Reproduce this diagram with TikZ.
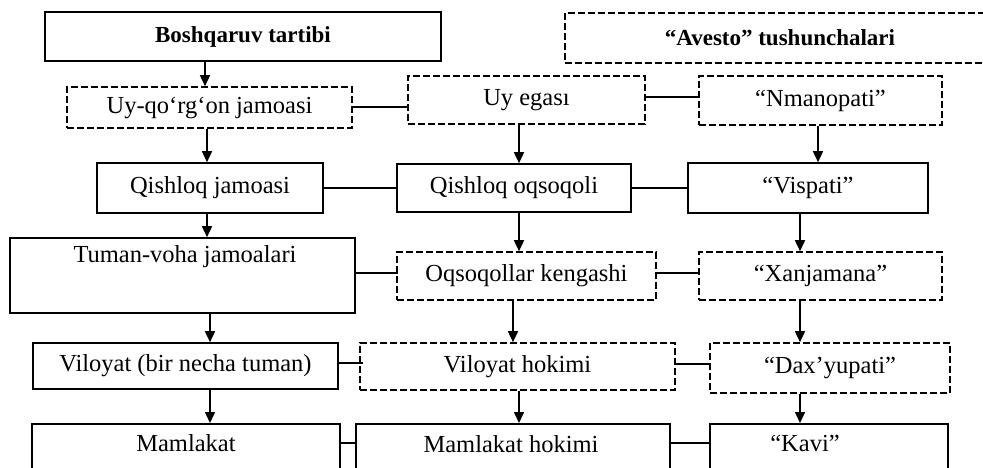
\documentclass[tikz,border=0pt]{standalone}
\usepackage{fontspec}
\setmainfont{Liberation Serif}
\usetikzlibrary{arrows.meta}
\tikzset{
  box/.style={draw, line width=1.6pt, inner sep=0pt, font=\fontsize{24.5}{27}\selectfont},
  dbox/.style={box, dash pattern=on 7pt off 3pt},
  txt/.style={inner sep=0pt, font=\fontsize{24.5}{27}\selectfont},
  arr/.style={line width=1.6pt, -{Triangle[length=11pt,width=10pt]}},
  link/.style={line width=2pt}
}
\begin{document}
\begin{tikzpicture}[x=1pt,y=-1pt]
\useasboundingbox (0,0) rectangle (983,468);
\clip (0,0) rectangle (983,468);
% top row
\node[box, line width=2pt, minimum width=396pt, minimum height=49pt, font=\bfseries\fontsize{23}{25}\selectfont] (bosh) at (243,36.5) {Boshqaruv tartibi};
\node[dbox, minimum width=430pt, minimum height=50pt, font=\bfseries\fontsize{23}{25}\selectfont] (avesto) at (780,38) {“Avesto” tushunchalari};
% row 2
\node[dbox, minimum width=285pt, minimum height=41pt] (uyq) at (209.5,107.5) {Uy-qo‘rg‘on jamoasi};
\node[dbox, minimum width=237pt, minimum height=48pt] (uye) at (526.5,100) {Uy egası};
\node[dbox, minimum width=243pt, minimum height=49pt] (nman) at (820.5,100.5) {“Nmanopati”};
% row 3
\node[box, minimum width=226pt, minimum height=50pt] (qj) at (210,188) {Qishloq jamoasi};
\node[box, minimum width=234pt, minimum height=48pt] (qo) at (514,188) {Qishloq oqsoqoli};
\node[box, minimum width=240pt, minimum height=50pt] (visp) at (808,188) {“Vispati”};
% row 4
\node[box, minimum width=345pt, minimum height=75pt] (tum) at (182.5,275.5) {};
\node[txt] (tumt) at (185,257) {Tuman-voha jamoalari};
\node[dbox, minimum width=259pt, minimum height=48pt] (oqk) at (526.5,276) {Oqsoqollar kengashi};
\node[dbox, minimum width=243pt, minimum height=48pt] (xan) at (820.5,276) {“Xanjamana”};
% row 5
\node[box, minimum width=305pt, minimum height=46pt] (vil) at (185.5,366) {Viloyat (bir necha tuman)};
\node[dbox, minimum width=315pt, minimum height=47pt] (vh) at (517.5,366.5) {Viloyat hokimi};
\node[dbox, minimum width=240pt, minimum height=50pt] (dax) at (830,368) {“Dax’yupati”};
% row 6 (cut off at the bottom)
\node[box, minimum width=308pt, minimum height=70pt, anchor=north] (mam) at (186,423) {};
\node[txt] (mamt) at (186,443) {Mamlakat};
\node[box, minimum width=314pt, minimum height=70pt, anchor=north] (mh) at (513,423) {};
\node[txt] (mht) at (511,444) {Mamlakat hokimi};
\node[box, minimum width=238pt, minimum height=70pt, anchor=north] (kavi) at (829,423) {};
\node[txt] (kavit) at (805,443) {“Kavi”};
% arrow columns
\coordinate (xa) at (205,0);
\coordinate (xb) at (207,0);
\coordinate (xc) at (210,0);
\coordinate (xd) at (519,0);
\coordinate (xe) at (513,0);
\coordinate (xf) at (818,0);
\coordinate (xg) at (800,0);
% vertical arrows
\draw[arr] (bosh.south -| xa) -- (uyq.north -| xa);
\draw[arr] (uyq.south -| xb) -- (qj.north -| xb);
\draw[arr] (qj.south -| xb) -- (tum.north -| xb);
\draw[arr] (tum.south -| xc) -- (vil.north -| xc);
\draw[arr] (vil.south -| xc) -- (mam.north -| xc);
\draw[arr] (uye.south -| xd) -- (qo.north -| xd);
\draw[arr] (qo.south -| xd) -- (oqk.north -| xd);
\draw[arr] (oqk.south -| xe) -- (vh.north -| xe);
\draw[arr] (vh.south -| xd) -- (mh.north -| xd);
\draw[arr] (nman.south -| xf) -- (visp.north -| xf);
\draw[arr] (visp.south -| xg) -- (xan.north -| xg);
\draw[arr] (xan.south -| xg) -- (dax.north -| xg);
\draw[arr] (dax.south -| xg) -- (kavi.north -| xg);
% horizontal links
\draw[link] (uyq.east) -- (uyq.east -| uye.west);
\draw[link] (uye.east) ++(0,-3) -- ++(54,0);
\draw[link] (qj.east) -- (qj.east -| qo.west);
\draw[link] (qo.east) -- (qo.east -| visp.west);
\draw[link] (oqk.west -| tum.east) ++(0,-3) -- ++(42,0);
\draw[link] (oqk.east) ++(0,-3) -- ++(43,0);
\draw[link] (vil.east) ++(0,-3) -- ++(24,0);
\draw[link] (vh.east) ++(0,-3) -- ++(35,0);
\draw[link] (mam.east |- mamt) -- (mh.west |- mamt);
\draw[link] (mh.east |- mamt) -- (kavi.west |- mamt);
\end{tikzpicture}
\end{document}
